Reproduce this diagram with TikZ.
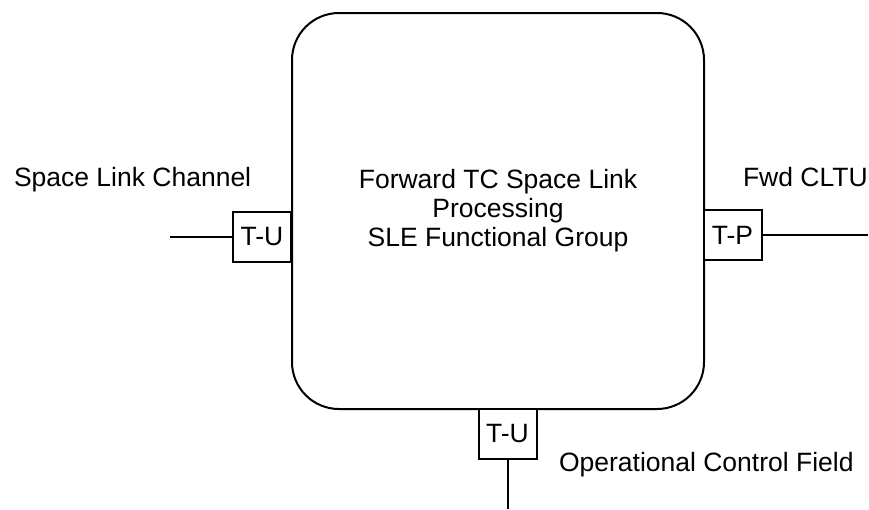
\documentclass[tikz,border=0pt]{standalone}
\usepackage{fontspec}
\setmainfont{Liberation Sans}
\begin{document}
\begin{tikzpicture}[x=1pt,y=-1pt,
  line width=2pt,
  lbl/.style={font=\fontsize{26.5}{29}\selectfont, inner sep=0pt},
  port/.style={draw, line width=2pt, minimum width=58pt, minimum height=50pt, inner sep=0pt, fill=white, font=\fontsize{26.5}{29}\selectfont}]
\useasboundingbox (0,0) rectangle (869,509);
% main functional group box
\draw[rounded corners=47pt] (292,13) rectangle (704,409);
\node[lbl, anchor=base] (t1) at (498,188) {Forward TC Space Link};
\node[lbl, anchor=base] (t2) at (498,217) {Processing};
\node[lbl, anchor=base] (t3) at (498,246) {SLE Functional Group};
% ports
\node[port] (tul) at (262,237) {T-U};
\node[port] (tp) at (732.5,235) {T-P};
\node[port] (tub) at (507.5,433.5) {T-U};
% free ends
\coordinate (le) at (170,237);
\coordinate (re) at (868,235);
\coordinate (be) at (507.5,509);
\draw (le) -- (tul.west);
\draw (tp.east) -- (re);
\draw (tub.south) -- (be);
% labels
\node[lbl, anchor=base west] (slc) at (13,186) {Space Link Channel};
\node[lbl, anchor=base west] (fc) at (742,186) {Fwd CLTU};
\node[lbl, anchor=base west] (ocf) at (558,471) {Operational Control Field};
\end{tikzpicture}
\end{document}
